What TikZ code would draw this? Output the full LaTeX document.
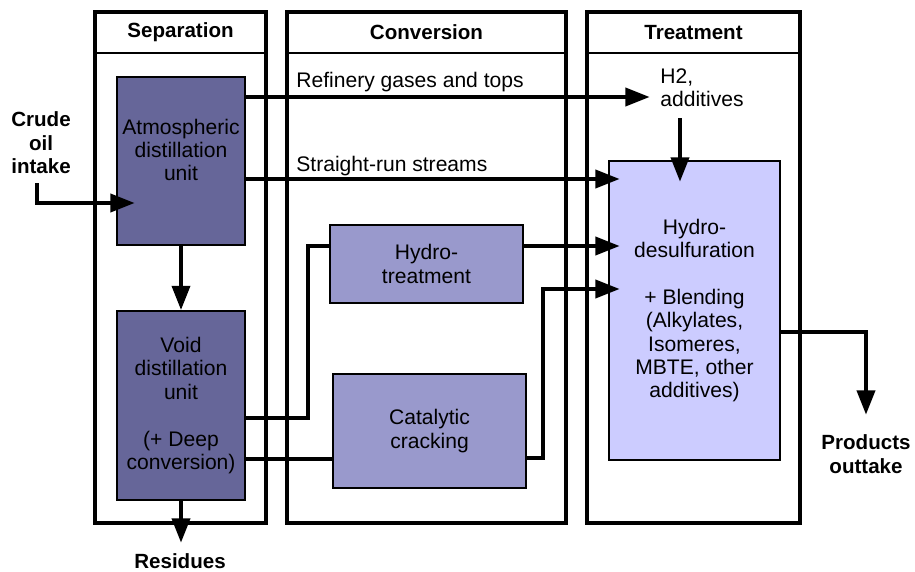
\documentclass[tikz,border=0pt]{standalone}
\usepackage{fontspec}
\setmainfont{Liberation Sans}
\usetikzlibrary{arrows.meta}

\definecolor{unitdark}{HTML}{666699}
\definecolor{unitmid}{HTML}{9999CC}
\definecolor{unitlight}{HTML}{CCCCFF}

\tikzset{
  panel/.style={draw, line width=2.3pt, inner sep=0pt, minimum height=10.22cm},
  headbox/.style={draw, line width=1pt, inner sep=0pt, minimum height=0.82cm, font=\fontsize{11.7}{13.3}\selectfont\bfseries},
  unitbox/.style={draw, line width=0.7pt, inner sep=0pt, align=center},
  flow/.style={line width=2.8pt, -{Triangle[length=14pt,width=10pt]}},
  pipe/.style={line width=2.8pt},
  thinpipe/.style={line width=2pt},
  extlabel/.style={align=center, inner sep=0pt, font=\fontsize{11.7}{13.3}\selectfont\bfseries},
  note/.style={inner sep=0pt}
}

\begin{document}
\begin{tikzpicture}[x=0.02cm,y=-0.02cm,
  every node/.append style={font=\fontsize{12}{13.3}\selectfont}]
\useasboundingbox (0,0) rectangle (915,571);

% the three columns
\node[headbox, minimum width=3.42cm] (septitle) at (180.5,32.5) {Separation};
\node[headbox, minimum width=5.58cm] (convtitle) at (426.5,32.5) {Conversion};
\node[headbox, minimum width=4.26cm] (treattitle) at (693.5,32.5) {Treatment};
\node[panel, minimum width=3.42cm] (sep) at (180.5,267.5) {};
\node[panel, minimum width=5.58cm] (conv) at (426.5,267.5) {};
\node[panel, minimum width=4.26cm] (treat) at (693.5,267.5) {};

% process units
\node[unitbox, fill=unitdark, minimum width=2.56cm, minimum height=3.36cm] (atm) at (181,161) {};
\node[note, align=center] (atmtext) at (181,150) {Atmospheric\\distillation\\unit};
\node[unitbox, fill=unitdark, minimum width=2.56cm, minimum height=3.78cm] (void) at (181,405.5)
  {Void\\distillation\\unit\\[13.3pt](+ Deep\\conversion)};
\node[unitbox, fill=unitmid, minimum width=3.86cm, minimum height=1.56cm] (hyd) at (426.5,264) {Hydro-\\treatment};
\node[unitbox, fill=unitmid, minimum width=3.86cm, minimum height=2.28cm] (cat) at (429.5,431) {Catalytic\\cracking};
\node[unitbox, fill=unitlight, minimum width=3.42cm, minimum height=5.98cm] (hds) at (694.5,310.5)
  {Hydro-\\desulfuration\\[13.3pt]+ Blending\\(Alkylates,\\Isomeres,\\MBTE, other\\additives)};

% texts outside the units
\node[extlabel] (crude) at (41,143) {Crude\\oil\\intake};
\node[extlabel] (resid) at (180,561) {Residues};
\node[extlabel] (prod) at (866,454) {Products\\outtake};
\node[note, anchor=west] (gaslbl) at (296,82) {Refinery gases and tops};
\node[note, anchor=west] (srlbl) at (296,166) {Straight-run streams};
\node[note, anchor=west, align=left] (h2) at (660,88) {H2,\\additives};

% end points of the streams
\coordinate (crudestart) at (37,183);
\coordinate (crudetip) at (135,203);
\coordinate (gastip) at (650,97);
\coordinate (srtip) at (620,179);
\coordinate (h2out) at (680,118);
\coordinate (h2tip) at (680,182);
\coordinate (hydrise) at (308,418);
\coordinate (hydtip) at (620,246);
\coordinate (catin) at (333,459);
\coordinate (catrise) at (543,458);
\coordinate (cattip) at (620,289);
\coordinate (prodbend) at (866,332);
\coordinate (prodtip) at (866,415);
\coordinate (residtip) at (181,543);

% streams
\draw[flow] (crudestart) |- (crudetip);
\draw[flow] (atm.east |- gastip) -- (gastip);
\draw[flow] (atm.east |- srtip) -- (srtip);
\draw[flow] (h2out) -- (h2tip);
\draw[flow] (atm.south) -- (void.north);
\draw[pipe] (void.east |- hydrise) -- (hydrise) |- (hyd.west |- hydtip);
\draw[thinpipe] (void.east |- catin) -- (cat.west |- catin);
\draw[flow] (hyd.east |- hydtip) -- (hydtip);
\draw[flow] (cat.east |- catrise) -- (catrise) |- (cattip);
\draw[flow] (hds.east |- prodbend) -- (prodbend) -- (prodtip);
\draw[flow] (void.south) -- (residtip);
\end{tikzpicture}
\end{document}
